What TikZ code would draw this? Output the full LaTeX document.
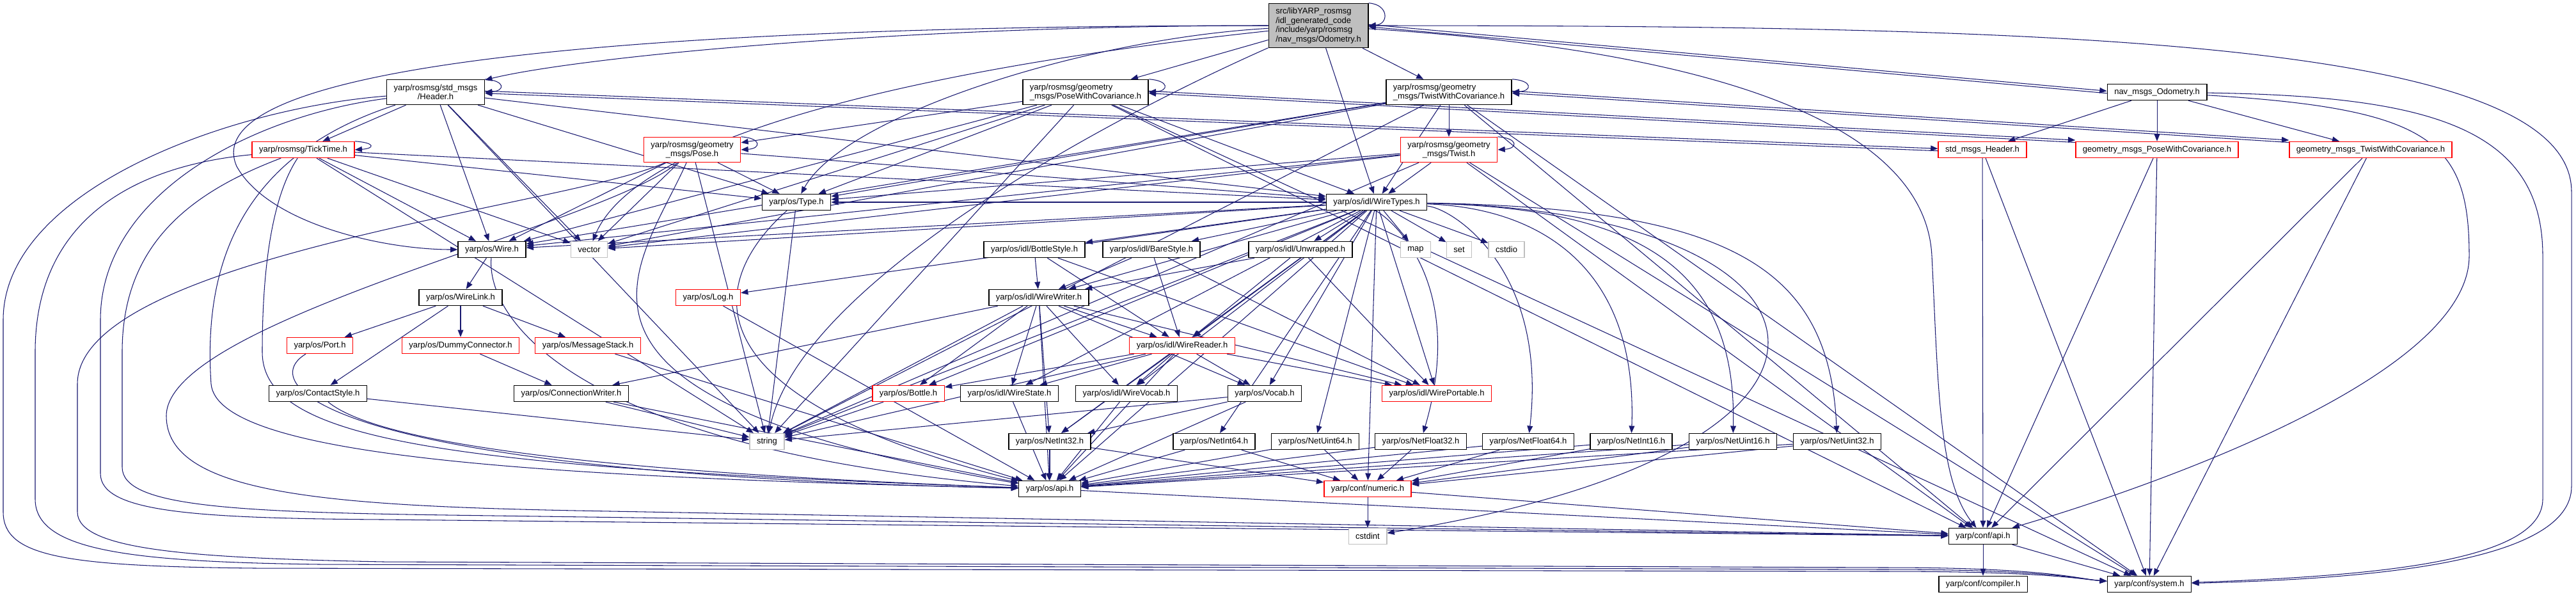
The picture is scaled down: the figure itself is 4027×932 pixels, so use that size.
\documentclass[tikz,border=0pt]{standalone}
\usepackage{fontspec}
\setmainfont{Liberation Sans}
\usepackage{xcolor}
\usepackage{tikz}
\usetikzlibrary{arrows.meta,backgrounds}

\definecolor{edgeblue}{HTML}{191970}
\definecolor{mainfill}{HTML}{BFBFBF}
\definecolor{sysgray}{HTML}{BFBFBF}

\begin{document}
\begin{tikzpicture}[x=0.01cm,y=-0.01cm,
  file/.style={draw=black,fill=white,line width=0.4pt,inner xsep=0.11cm,inner ysep=0pt,
    minimum height=0.25cm,align=center,font=\fontsize{3.7}{4.1}\selectfont},
  twoline/.style={file,minimum height=0.39cm},
  dep/.style={draw=edgeblue,line width=0.3pt,-{Triangle[length=3.2pt,width=2.5pt]}}]
\useasboundingbox (0,0) rectangle (4027,932);

\node[file,fill=mainfill,align=left,minimum height=0.69cm] (M) at (2061,40)
  {src/libYARP\_rosmsg\\/idl\_generated\_code\\/include/yarp/rosmsg\\/nav\_msgs/Odometry.h};
\node[twoline] (hdr) at (681,144) {yarp/rosmsg/std\_msgs\\/Header.h};
\node[twoline,align=left] (posewc) at (1697,144) {yarp/rosmsg/geometry\\\_msgs/PoseWithCovariance.h};
\node[twoline,align=left] (twistwc) at (2265,144) {yarp/rosmsg/geometry\\\_msgs/TwistWithCovariance.h};
\node[file] (navodom) at (3372,144) {nav\_msgs\_Odometry.h};
\node[file,draw=red] (ticktime) at (474,234) {yarp/rosmsg/TickTime.h};
\node[twoline,draw=red] (pose) at (1082,234) {yarp/rosmsg/geometry\\\_msgs/Pose.h};
\node[twoline,draw=red] (twist) at (2265,234) {yarp/rosmsg/geometry\\\_msgs/Twist.h};
\node[file,draw=red] (stdhdr) at (3099,234) {std\_msgs\_Header.h};
\node[file,draw=red] (geopose) at (3372,234) {geometry\_msgs\_PoseWithCovariance.h};
\node[file,draw=red] (geotwist) at (3706,234) {geometry\_msgs\_TwistWithCovariance.h};
\node[file] (type) at (1245,316) {yarp/os/Type.h};
\node[file] (wiretypes) at (2152,316) {yarp/os/idl/WireTypes.h};
\node[file] (wire) at (769,390) {yarp/os/Wire.h};
\node[file,draw=sysgray] (vector) at (921,390) {vector};
\node[file] (bottlestyle) at (1617,390) {yarp/os/idl/BottleStyle.h};
\node[file] (barestyle) at (1800,390) {yarp/os/idl/BareStyle.h};
\node[file] (unwrapped) at (2033,390) {yarp/os/idl/Unwrapped.h};
\node[file,draw=sysgray] (map) at (2213,390) {map};
\node[file,draw=sysgray] (set) at (2281,390) {set};
\node[file,draw=sysgray] (cstdio) at (2355,390) {cstdio};
\node[file] (wirelink) at (720,465) {yarp/os/WireLink.h};
\node[file,draw=red] (log) at (1107,465) {yarp/os/Log.h};
\node[file] (wirewriter) at (1624,465) {yarp/os/idl/WireWriter.h};
\node[file,draw=red] (port) at (500,540) {yarp/os/Port.h};
\node[file,draw=red] (dummy) at (720,540) {yarp/os/DummyConnector.h};
\node[file,draw=red] (msgstack) at (919,540) {yarp/os/MessageStack.h};
\node[file,draw=red] (wirereader) at (1848,540) {yarp/os/idl/WireReader.h};
\node[file] (contact) at (497,615) {yarp/os/ContactStyle.h};
\node[file] (connwriter) at (893,615) {yarp/os/ConnectionWriter.h};
\node[file,draw=red] (bottle) at (1420,615) {yarp/os/Bottle.h};
\node[file] (wirestate) at (1578,615) {yarp/os/idl/WireState.h};
\node[file] (wirevocab) at (1761,615) {yarp/os/idl/WireVocab.h};
\node[file] (vocab) at (1977,615) {yarp/os/Vocab.h};
\node[file,draw=red] (wireportable) at (2246,615) {yarp/os/idl/WirePortable.h};
\node[file,draw=sysgray] (string) at (1199,690) {string};
\node[file] (netint32) at (1641,690) {yarp/os/NetInt32.h};
\node[file] (netint64) at (1898,690) {yarp/os/NetInt64.h};
\node[file] (netuint64) at (2056,690) {yarp/os/NetUint64.h};
\node[file] (netfloat32) at (2221,690) {yarp/os/NetFloat32.h};
\node[file] (netfloat64) at (2389,690) {yarp/os/NetFloat64.h};
\node[file] (netint16) at (2550,690) {yarp/os/NetInt16.h};
\node[file] (netuint16) at (2709,690) {yarp/os/NetUint16.h};
\node[file] (netuint32) at (2872,690) {yarp/os/NetUint32.h};
\node[file] (osapi) at (1641,764) {yarp/os/api.h};
\node[file,draw=red] (numeric) at (2138,764) {yarp/conf/numeric.h};
\node[file,draw=sysgray] (cstdint) at (2138,838) {cstdint};
\node[file] (confapi) at (3100,838) {yarp/conf/api.h};
\node[file] (compiler) at (3100,913) {yarp/conf/compiler.h};
\node[file] (system) at (3360,913) {yarp/conf/system.h};

\begin{scope}[on background layer]
% straight includes
\foreach \s/\t in {M/posewc,M/twistwc,M/wiretypes,
    hdr/ticktime,hdr/wire,hdr/vector,hdr/wiretypes,hdr/type,hdr/string,
    ticktime/wire,ticktime/vector,ticktime/type,ticktime/wiretypes,ticktime/string,
    posewc/pose,posewc/type,posewc/wiretypes,posewc/wire,posewc/vector,posewc/string,posewc/confapi,posewc/system,
    pose/type,pose/wiretypes,pose/wire,pose/vector,pose/string,
    twistwc/twist,twistwc/wiretypes,twistwc/type,twistwc/wire,twistwc/vector,twistwc/string,twistwc/confapi,twistwc/system,
    twist/wiretypes,twist/type,twist/wire,twist/vector,twist/string,twist/confapi,twist/system,
    navodom/stdhdr,navodom/geopose,navodom/geotwist,
    stdhdr/confapi,stdhdr/system,geopose/confapi,geopose/system,geotwist/confapi,geotwist/system,
    type/string,wire/wirelink,
    wirelink/port,wirelink/dummy,wirelink/msgstack,wirelink/contact,
    dummy/connwriter,msgstack/osapi,contact/string,connwriter/string,connwriter/osapi,log/osapi,
    wiretypes/wire,wiretypes/vector,wiretypes/type,wiretypes/log,wiretypes/bottlestyle,wiretypes/barestyle,
    wiretypes/unwrapped,wiretypes/map,wiretypes/set,wiretypes/cstdio,wiretypes/wirewriter,wiretypes/wirereader,
    wiretypes/wireportable,wiretypes/string,wiretypes/wirestate,wiretypes/wirevocab,wiretypes/vocab,wiretypes/bottle,
    wiretypes/netint32,wiretypes/netint64,wiretypes/netuint64,wiretypes/osapi,wiretypes/numeric,
    bottlestyle/wirewriter,bottlestyle/wirereader,bottlestyle/wireportable,
    barestyle/wirewriter,barestyle/wirereader,barestyle/wireportable,
    unwrapped/wirewriter,unwrapped/wirereader,unwrapped/wireportable,
    wirewriter/wirereader,wirewriter/bottle,wirewriter/wirestate,wirewriter/wirevocab,wirewriter/vocab,
    wirewriter/wireportable,wirewriter/string,wirewriter/osapi,wirewriter/connwriter,wirewriter/netint32,
    wirereader/bottle,wirereader/wirestate,wirereader/wirevocab,wirereader/vocab,wirereader/wireportable,
    wirereader/string,wirereader/netint32,wirereader/osapi,
    bottle/string,wirestate/osapi,wirevocab/osapi,vocab/string,vocab/netint32,vocab/osapi,
    netint32/osapi,netint32/numeric,netint64/osapi,netint64/numeric,netuint64/osapi,netuint64/numeric,
    netfloat32/osapi,netfloat32/numeric,netfloat64/osapi,netfloat64/numeric,netint16/osapi,netint16/numeric,
    netuint16/osapi,netuint16/numeric,netuint32/osapi,netuint32/numeric,
    osapi/confapi,numeric/cstdint,numeric/confapi,confapi/compiler,confapi/system}
  \draw[dep] (\s) -- (\t);

% self includes
\foreach \n in {M,hdr,ticktime,posewc,pose,twistwc,twist}
  \draw[dep] (\n.north east) .. controls +(32,2) and +(32,-2) .. (\n.east);

% both ways
\foreach \a/\b in {M.east/navodom.west,hdr.east/stdhdr.west,posewc.east/geopose.north west,twistwc.east/geotwist.north west} {
  \draw[dep] ([yshift=0.5pt]\a) -- ([yshift=0.5pt]\b);
  \draw[dep] ([yshift=-0.5pt]\b) -- ([yshift=-0.5pt]\a);
}

% from WireTypes down to the Net* headers
\foreach \t/\x in {netfloat32/2300,netfloat64/2420,netint16/2560,netuint16/2715,netuint32/2860}
  \draw[dep] (wiretypes) .. controls (\x-150,325) and (\x,420) .. (\t);

% long routes
\draw[dep] (M) .. controls (1400,40) and (900,90) .. (hdr);
\draw[dep] (M) .. controls (1700,60) and (1320,180) .. (type);
\draw[dep] (M) .. controls (1000,40) and (300,100) .. (370,260) .. controls (420,350) and (600,390) .. (wire);
\draw[dep] (M) .. controls (1500,100) and (1000,200) .. (vector);
\draw[dep] (M) .. controls (1700,200) and (1250,450) .. (string);
\draw[dep] (M) .. controls (3200,40) and (4020,60) .. (4020,300) -- (4020,760) .. controls (4020,880) and (3700,905) .. (system);
\draw[dep] (M) .. controls (2700,80) and (3010,200) .. (3020,400) .. controls (3030,600) and (3030,750) .. (confapi);
\draw[dep] (navodom) .. controls (3800,150) and (3975,200) .. (3975,400) -- (3975,780) .. controls (3975,880) and (3700,900) .. (system);
\draw[dep] (navodom) .. controls (3800,170) and (3860,220) .. (3860,400) .. controls (3860,600) and (3300,780) .. (confapi);
\draw[dep] (wiretypes) .. controls (2900,330) and (3000,700) .. (cstdint);

\draw[dep] (hdr) .. controls (350,170) and (5,300) .. (5,500) -- (5,800) .. controls (5,870) and (100,885) .. (400,888) -- (2950,893) .. controls (3200,893) and (3250,905) .. (system);
\draw[dep] (ticktime) .. controls (200,260) and (55,350) .. (55,550) -- (55,780) .. controls (55,860) and (200,878) .. (500,882) -- (2950,890) .. controls (3200,890) and (3250,905) .. (system);
\draw[dep] (pose) .. controls (900,320) and (121,400) .. (121,600) -- (121,800) .. controls (121,860) and (300,872) .. (600,878) -- (2950,887) .. controls (3200,887) and (3250,905) .. (system);
\draw[dep] (hdr) .. controls (400,180) and (157,300) .. (157,500) -- (157,740) .. controls (157,800) and (300,810) .. (600,812) -- (confapi);
\draw[dep] (ticktime) .. controls (300,300) and (191,380) .. (191,550) -- (191,730) .. controls (191,790) and (350,800) .. (700,805) -- (confapi);
\draw[dep] (pose) .. controls (950,350) and (260,500) .. (260,650) .. controls (260,770) and (500,790) .. (900,798) -- (confapi);
\draw[dep] (ticktime) .. controls (430,300) and (410,400) .. (410,550) .. controls (410,690) and (700,730) .. (osapi);
\draw[dep] (hdr) .. controls (350,250) and (320,450) .. (330,600) .. controls (340,710) and (800,745) .. (osapi);
\draw[dep] (pose) .. controls (1000,420) and (800,620) .. (osapi);
\draw[dep] (wire) .. controls (760,500) and (900,700) .. (osapi);
\draw[dep] (port) .. controls (400,600) and (500,740) .. (osapi);
\draw[dep] (contact) .. controls (600,700) and (1000,740) .. (osapi);
\draw[dep] (type) .. controls (1150,400) and (1000,600) .. (osapi);
\end{scope}
\end{tikzpicture}
\end{document}
